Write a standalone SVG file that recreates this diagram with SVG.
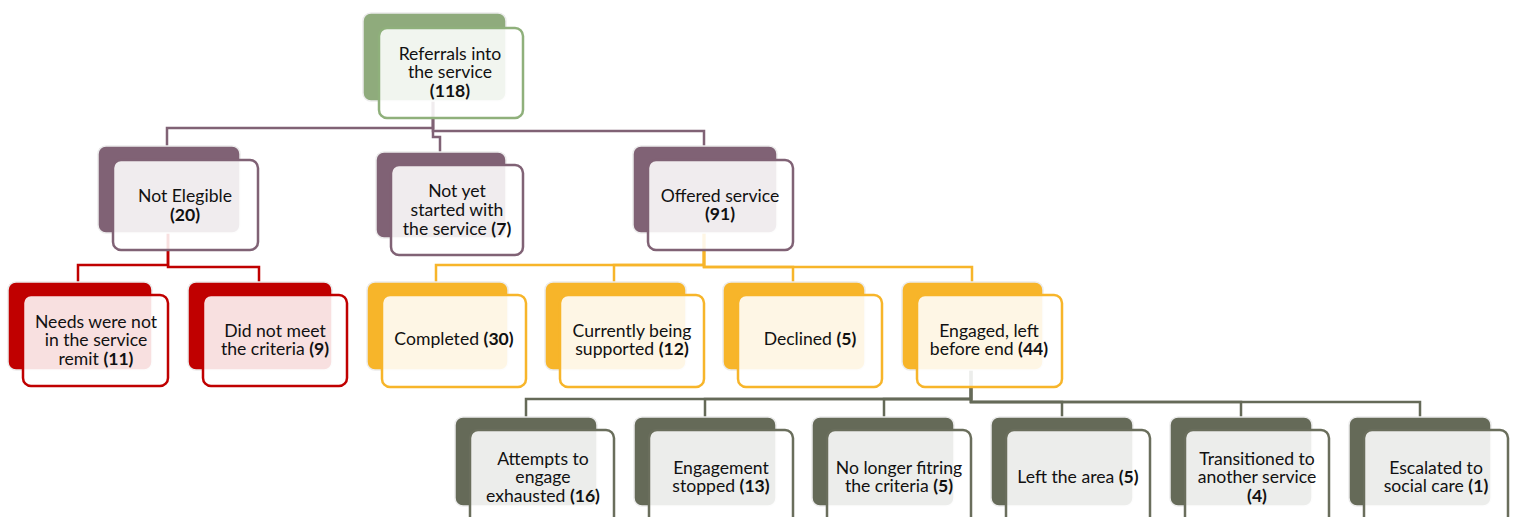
<svg xmlns="http://www.w3.org/2000/svg" width="1515" height="517" viewBox="0 0 1515 517">
<style>
  .bk { stroke: #ececec; stroke-width: 1.5; }
  .fr { fill: #ffffff; fill-opacity: 0.88; stroke-width: 2.5; }
  .g .bk { fill: #8fab7c; } .g .fr { stroke: #8fb07b; }
  .p .bk { fill: #806275; } .p .fr { stroke: #806275; }
  .r .bk { fill: #c00000; } .r .fr { stroke: #c00000; }
  .y .bk { fill: #f7b52a; } .y .fr { stroke: #f7b52a; }
  .k .bk { fill: #656a58; } .k .fr { stroke: #6a6e5c; }
  text { font-family: Lato, "Liberation Sans", sans-serif; font-size: 17.6px; fill: #111; text-anchor: middle; }
  .b { font-weight: bold; }
  .c { fill: none; stroke-width: 2.5; }
  .cp { stroke: #806275; } .cr { stroke: #c00000; } .cy { stroke: #f7b52a; } .ck { stroke: #656a58; }
</style>
<g id="connectors">
  <path class="c cp" d="M433,101 V128 H167 V146"/>
  <path class="c cp" d="M433,101 V137 H440 V152"/>
  <path class="c cp" d="M433,101 V131 H704 V146"/>
  <path class="c cr" d="M168,233 V265 H78 V282"/>
  <path class="c cr" d="M168,233 V267 H259 V282"/>
  <path class="c cy" d="M704,233 V265 H436 V282"/>
  <path class="c cy" d="M704,233 V265 H614 V282"/>
  <path class="c cy" d="M704,233 V267 H793 V282"/>
  <path class="c cy" d="M704,233 V267 H972 V282"/>
  <path class="c ck" d="M971,370 V399 H526 V417"/>
  <path class="c ck" d="M971,370 V399 H705 V417"/>
  <path class="c ck" d="M971,370 V399 H884 V417"/>
  <path class="c ck" d="M971,370 V402 H1062 V417"/>
  <path class="c ck" d="M971,370 V402 H1241 V417"/>
  <path class="c ck" d="M971,370 V402 H1420 V417"/>
</g>
<g id="n-root" class="g">
  <rect class="bk" x="363" y="13" width="143" height="88" rx="8"/>
  <rect class="fr" x="379" y="28" width="144" height="90" rx="8"/>
  <text x="450" y="60">Referrals into</text>
  <text x="450" y="78">the service</text>
  <text x="450" y="97" class="b">(118)</text>
</g>
<g id="n-noteligible" class="p">
  <rect class="bk" x="98" y="146" width="142" height="87" rx="8"/>
  <rect class="fr" x="113" y="160" width="145" height="90" rx="8"/>
  <text x="185" y="202">Not Elegible</text>
  <text x="185" y="221" class="b">(20)</text>
</g>
<g id="n-notyet" class="p">
  <rect class="bk" x="376" y="152" width="130" height="86" rx="8"/>
  <rect class="fr" x="391" y="165" width="132" height="90" rx="8"/>
  <text x="457" y="197">Not yet</text>
  <text x="457" y="216">started with</text>
  <text x="457" y="235">the service <tspan class="b">(7)</tspan></text>
</g>
<g id="n-offered" class="p">
  <rect class="bk" x="633" y="146" width="144" height="87" rx="8"/>
  <rect class="fr" x="648" y="160" width="145" height="90" rx="8"/>
  <text x="720" y="202">Offered service</text>
  <text x="720" y="220" class="b">(91)</text>
</g>
<g id="n-needs" class="r">
  <rect class="bk" x="8" y="282" width="144" height="88" rx="8"/>
  <rect class="fr" x="23" y="295" width="145" height="91" rx="8"/>
  <text x="96" y="328">Needs were not</text>
  <text x="96" y="346">in the service</text>
  <text x="96" y="365">remit <tspan class="b">(11)</tspan></text>
</g>
<g id="n-didnotmeet" class="r">
  <rect class="bk" x="188" y="282" width="144" height="88" rx="8"/>
  <rect class="fr" x="203" y="295" width="144" height="91" rx="8"/>
  <text x="275" y="337">Did not meet</text>
  <text x="275" y="355">the criteria <tspan class="b">(9)</tspan></text>
</g>
<g id="n-completed" class="y">
  <rect class="bk" x="367" y="282" width="141" height="88" rx="8"/>
  <rect class="fr" x="382" y="295" width="144" height="92" rx="8"/>
  <text x="454" y="345">Completed <tspan class="b">(30)</tspan></text>
</g>
<g id="n-current" class="y">
  <rect class="bk" x="545" y="282" width="141" height="88" rx="8"/>
  <rect class="fr" x="560" y="295" width="144" height="92" rx="8"/>
  <text x="632" y="337">Currently being</text>
  <text x="632" y="355">supported <tspan class="b">(12)</tspan></text>
</g>
<g id="n-declined" class="y">
  <rect class="bk" x="723" y="282" width="142" height="88" rx="8"/>
  <rect class="fr" x="738" y="295" width="144" height="92" rx="8"/>
  <text x="810" y="345">Declined <tspan class="b">(5)</tspan></text>
</g>
<g id="n-engaged" class="y">
  <rect class="bk" x="902" y="282" width="141" height="88" rx="8"/>
  <rect class="fr" x="917" y="295" width="145" height="92" rx="8"/>
  <text x="989" y="337">Engaged, left</text>
  <text x="989" y="355">before end <tspan class="b">(44)</tspan></text>
</g>
<g id="n-attempts" class="k">
  <rect class="bk" x="455" y="417" width="142" height="89" rx="8"/>
  <rect class="fr" x="470" y="430" width="144" height="96" rx="8"/>
  <text x="543" y="465">Attempts to</text>
  <text x="543" y="483">engage</text>
  <text x="543" y="502">exhausted <tspan class="b">(16)</tspan></text>
</g>
<g id="n-stopped" class="k">
  <rect class="bk" x="634" y="417" width="142" height="89" rx="8"/>
  <rect class="fr" x="649" y="430" width="144" height="96" rx="8"/>
  <text x="721" y="474">Engagement</text>
  <text x="721" y="492">stopped <tspan class="b">(13)</tspan></text>
</g>
<g id="n-nolonger" class="k">
  <rect class="bk" x="812" y="417" width="142" height="89" rx="8"/>
  <rect class="fr" x="827" y="430" width="144" height="96" rx="8"/>
  <text x="899" y="474">No longer fitring</text>
  <text x="899" y="492">the criteria <tspan class="b">(5)</tspan></text>
</g>
<g id="n-left" class="k">
  <rect class="bk" x="991" y="417" width="142" height="89" rx="8"/>
  <rect class="fr" x="1006" y="430" width="144" height="96" rx="8"/>
  <text x="1078" y="483">Left the area <tspan class="b">(5)</tspan></text>
</g>
<g id="n-transitioned" class="k">
  <rect class="bk" x="1170" y="417" width="142" height="89" rx="8"/>
  <rect class="fr" x="1185" y="430" width="144" height="96" rx="8"/>
  <text x="1257" y="465">Transitioned to</text>
  <text x="1257" y="483">another service</text>
  <text x="1257" y="502" class="b">(4)</text>
</g>
<g id="n-escalated" class="k">
  <rect class="bk" x="1349" y="417" width="142" height="89" rx="8"/>
  <rect class="fr" x="1364" y="430" width="144" height="96" rx="8"/>
  <text x="1436" y="474">Escalated to</text>
  <text x="1436" y="492">social care <tspan class="b">(1)</tspan></text>
</g>
</svg>
